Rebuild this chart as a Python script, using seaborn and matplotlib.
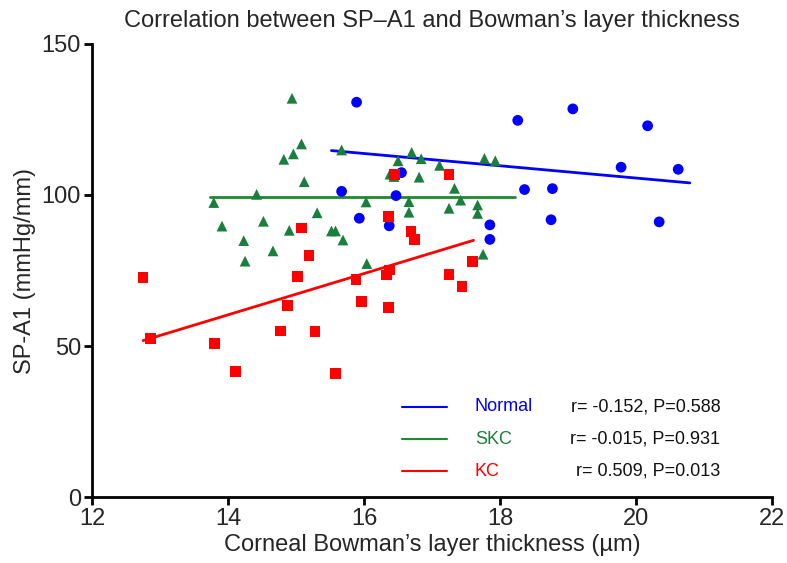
import pandas as pd
import matplotlib
matplotlib.use('Agg')
import matplotlib.pyplot as plt
import seaborn as sns

# ---- dados ----
normal_x = [15.89, 16.55, 15.67, 16.47, 15.93, 16.37, 18.26, 19.07, 20.17, 19.78,
            20.62, 18.36, 18.77, 18.75, 20.34, 17.85, 17.85]
normal_y = [130.7, 107.4, 101.2, 99.8, 92.3, 89.8, 124.7, 128.5, 122.9, 109.2,
            108.5, 101.8, 102.1, 91.8, 91.1, 90.1, 85.3]

skc_x = [13.79, 13.91, 14.23, 14.25, 14.42, 14.52, 14.66, 14.82, 14.90, 14.94,
         14.96, 15.08, 15.12, 15.31, 15.52, 15.58, 15.67, 15.69, 16.03, 16.04,
         16.38, 16.44, 16.50, 16.66, 16.66, 16.70, 16.81, 16.84, 17.11, 17.25,
         17.33, 17.42, 17.67, 17.67, 17.75, 17.77, 17.93]
skc_y = [97.5, 89.7, 84.9, 78.1, 100.2, 91.3, 81.5, 111.8, 88.3, 132.0,
         113.6, 116.9, 104.4, 94.1, 88.1, 88.1, 114.9, 85.1, 97.7, 77.3,
         106.9, 106.1, 111.3, 97.8, 94.3, 114.1, 105.9, 112.0, 109.8, 95.6,
         102.2, 98.3, 96.7, 93.9, 80.4, 112.1, 111.3]

kc_x = [12.75, 12.86, 13.80, 14.11, 14.77, 14.87, 15.02, 15.08, 15.19, 15.28,
        15.58, 15.88, 15.96, 16.33, 16.37, 16.36, 16.36, 16.45, 16.69, 16.74,
        17.25, 17.25, 17.44, 17.60]
kc_y = [72.7, 52.5, 50.8, 41.5, 55.0, 63.3, 73.0, 89.1, 80.0, 54.7,
        41.0, 72.1, 64.7, 73.5, 75.2, 62.8, 93.0, 106.8, 87.9, 85.3,
        106.8, 73.8, 69.6, 77.9]

# retas de regressão (extremos)
normal_fit_x = [15.52, 20.79]
normal_fit_y = [114.7, 104.0]
skc_fit_x = [13.74, 18.22]
skc_fit_y = [99.2, 99.2]
kc_fit_x = [12.75, 17.61]
kc_fit_y = [51.8, 85.0]

grupos = ['Normal', 'SKC', 'KC']
estatisticas = ['r= -0.152, P=0.588', 'r= -0.015, P=0.931', 'r= 0.509, P=0.013']

cores_pontos = {'Normal': '#0000ff', 'SKC': '#1a7f3c', 'KC': '#ff0000'}
cores_linhas = {'Normal': '#0000ff', 'SKC': '#1e8a2e', 'KC': '#ff0000'}
marcadores = {'Normal': 'o', 'SKC': '^', 'KC': 's'}

df = pd.concat([
    pd.DataFrame({'x': normal_x, 'y': normal_y, 'grupo': 'Normal'}),
    pd.DataFrame({'x': skc_x, 'y': skc_y, 'grupo': 'SKC'}),
    pd.DataFrame({'x': kc_x, 'y': kc_y, 'grupo': 'KC'}),
])
df_fit = pd.concat([
    pd.DataFrame({'x': normal_fit_x, 'y': normal_fit_y, 'grupo': 'Normal'}),
    pd.DataFrame({'x': skc_fit_x, 'y': skc_fit_y, 'grupo': 'SKC'}),
    pd.DataFrame({'x': kc_fit_x, 'y': kc_fit_y, 'grupo': 'KC'}),
])

sns.set_style('ticks')
plt.rcParams['font.family'] = ['Liberation Sans', 'DejaVu Sans']

fig = plt.figure(figsize=(7.87, 5.63), dpi=100)
ax = fig.add_axes([0.117, 0.117, 0.864, 0.805])

sns.scatterplot(data=df, x='x', y='y', hue='grupo', style='grupo',
                palette=cores_pontos, markers=marcadores, s=60,
                edgecolor='none', legend=False, ax=ax, zorder=3)
for g in grupos:
    sns.lineplot(data=df_fit[df_fit['grupo'] == g], x='x', y='y',
                 color=cores_linhas[g], linewidth=2, ax=ax, zorder=2)

ax.set_xlim(12, 22)
ax.set_ylim(0, 150)
ax.set_xticks([12, 14, 16, 18, 20, 22])
ax.set_yticks([0, 50, 100, 150])
ax.tick_params(axis='both', labelsize=17, width=2, length=6, color='black', pad=2)
for lado in ['left', 'bottom']:
    ax.spines[lado].set_linewidth(2)
    ax.spines[lado].set_color('black')
sns.despine(ax=ax)

ax.set_xlabel('Corneal Bowman\u2019s layer thickness (\u00b5m)', fontsize=17, labelpad=3)
ax.set_ylabel('SP-A1 (mmHg/mm)', fontsize=17, labelpad=4)
ax.set_title('Correlation between SP\u2013A1 and Bowman\u2019s layer thickness',
             fontsize=17, pad=12)

# legenda manual
linhas_y = [0.199, 0.128, 0.057]
for g, st, yy in zip(grupos, estatisticas, linhas_y):
    ax.plot([0.456, 0.522], [yy, yy], color=cores_linhas[g], linewidth=1.5,
            transform=ax.transAxes)
    ax.text(0.563, yy, g, color=cores_pontos[g], fontsize=13,
            va='center', ha='left', transform=ax.transAxes)
    ax.text(0.924, yy, st, color='#111111', fontsize=13,
            va='center', ha='right', transform=ax.transAxes)

plt.savefig('out.png', dpi=100)
